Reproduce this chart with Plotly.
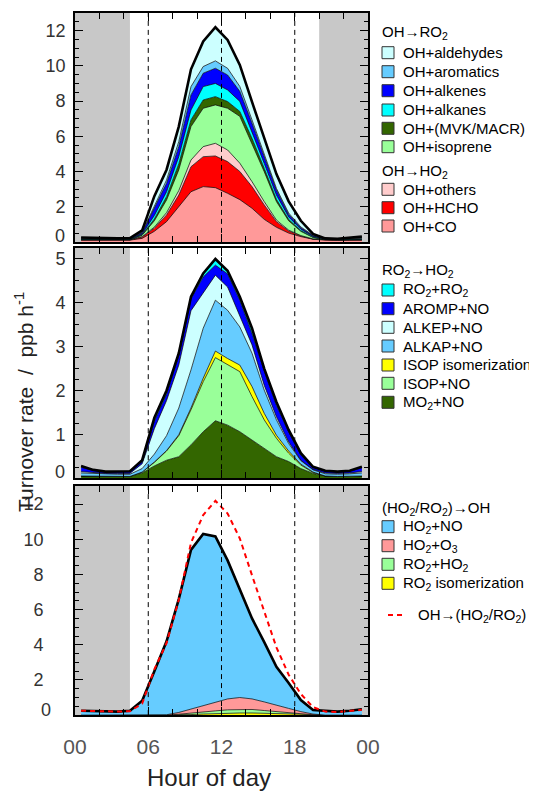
import numpy as np
import plotly.graph_objects as go

# ---------------- data ----------------
hours = [h + 0.5 for h in range(24)]

# Panel 1: OH -> RO2 / OH -> HO2 (stack order bottom -> top)
oh_co = [0.10, 0.10, 0.10, 0.10, 0.10, 0.20, 0.60, 1.15, 2.00, 2.85, 3.14, 3.08,
         2.76, 2.40, 1.91, 1.28, 0.83, 0.50, 0.30, 0.15, 0.10, 0.08, 0.10, 0.10]
oh_hcho = [0.01, 0.01, 0.01, 0.01, 0.01, 0.07, 0.18, 0.38, 0.66, 1.42, 1.70, 1.80,
           1.80, 1.60, 1.23, 0.82, 0.32, 0.12, 0.04, 0.01, 0.01, 0.01, 0.01, 0.01]
oh_others = [0.02, 0.02, 0.02, 0.02, 0.02, 0.03, 0.06, 0.13, 0.25, 0.38, 0.57, 0.72,
             0.66, 0.47, 0.28, 0.19, 0.09, 0.05, 0.02, 0.01, 0.02, 0.02, 0.02, 0.02]
oh_isoprene = [0.00, 0.00, 0.00, 0.00, 0.00, 0.08, 0.36, 0.72, 1.18, 1.90, 2.18, 2.18,
               2.37, 2.66, 2.18, 1.70, 1.05, 0.53, 0.24, 0.08, 0.00, 0.00, 0.00, 0.00]
oh_mvk = [0.01, 0.01, 0.01, 0.01, 0.01, 0.03, 0.10, 0.19, 0.34, 0.38, 0.47, 0.47,
          0.38, 0.28, 0.28, 0.19, 0.13, 0.08, 0.04, 0.02, 0.01, 0.01, 0.01, 0.01]
oh_alkanes = [0.02, 0.02, 0.02, 0.02, 0.02, 0.04, 0.20, 0.28, 0.41, 0.56, 0.76, 0.75,
              0.66, 0.57, 0.38, 0.28, 0.24, 0.14, 0.08, 0.04, 0.02, 0.02, 0.02, 0.02]
oh_alkenes = [0.03, 0.03, 0.03, 0.03, 0.03, 0.07, 0.38, 0.48, 0.57, 0.86, 0.76, 0.86,
              0.85, 0.57, 0.48, 0.38, 0.29, 0.14, 0.08, 0.05, 0.03, 0.03, 0.03, 0.03]
oh_aromatics = [0.01, 0.01, 0.01, 0.01, 0.01, 0.03, 0.14, 0.19, 0.29, 0.47, 0.38, 0.42,
                0.38, 0.28, 0.19, 0.19, 0.09, 0.08, 0.05, 0.02, 0.01, 0.01, 0.01, 0.01]
oh_aldehydes = [0.05, 0.02, 0.00, 0.00, 0.02, 0.10, 0.58, 0.58, 0.85, 0.98, 1.42, 1.91,
                1.61, 1.22, 1.02, 0.87, 0.81, 0.66, 0.35, 0.07, 0.00, 0.00, 0.02, 0.10]

# Panel 2: RO2 -> HO2
mo2_no = [0.05, 0.05, 0.04, 0.04, 0.04, 0.12, 0.28, 0.41, 0.49, 0.76, 1.06, 1.31,
          1.21, 1.06, 0.87, 0.68, 0.49, 0.38, 0.22, 0.11, 0.05, 0.04, 0.05, 0.05]
isop_no = [0.00, 0.00, 0.00, 0.00, 0.00, 0.02, 0.08, 0.21, 0.48, 0.80, 1.14, 1.44,
           1.37, 1.37, 0.99, 0.65, 0.42, 0.19, 0.08, 0.02, 0.00, 0.00, 0.00, 0.00]
isop_iso = [0.00, 0.00, 0.00, 0.00, 0.00, 0.00, 0.01, 0.01, 0.02, 0.04, 0.08, 0.15,
            0.15, 0.15, 0.23, 0.15, 0.07, 0.05, 0.02, 0.01, 0.00, 0.00, 0.00, 0.00]
alkap_no = [0.07, 0.06, 0.05, 0.05, 0.05, 0.08, 0.18, 0.34, 0.61, 0.87, 1.14, 1.16,
            1.10, 0.87, 0.76, 0.53, 0.35, 0.17, 0.08, 0.05, 0.05, 0.05, 0.05, 0.07]
alkep_no = [0.03, 0.02, 0.02, 0.02, 0.02, 0.11, 0.58, 0.80, 0.98, 1.35, 0.82, 0.57,
            0.53, 0.23, 0.19, 0.11, 0.07, 0.04, 0.01, 0.01, 0.02, 0.02, 0.02, 0.03]
aromp_no = [0.10, 0.05, 0.03, 0.04, 0.04, 0.05, 0.17, 0.15, 0.22, 0.27, 0.35, 0.23,
            0.30, 0.38, 0.26, 0.33, 0.26, 0.23, 0.12, 0.05, 0.04, 0.03, 0.04, 0.09]
ro2_ro2 = [0.03, 0.01, 0.01, 0.01, 0.01, 0.03, 0.08, 0.08, 0.05, 0.05, 0.08, 0.14,
           0.07, 0.08, 0.12, 0.05, 0.08, 0.04, 0.04, 0.01, 0.01, 0.01, 0.01, 0.02]

# Panel 3: (HO2/RO2) -> OH
ro2_isom = [0.00, 0.00, 0.00, 0.00, 0.00, 0.00, 0.00, 0.00, 0.00, 0.03, 0.06, 0.09,
            0.11, 0.12, 0.12, 0.10, 0.07, 0.05, 0.02, 0.00, 0.00, 0.00, 0.00, 0.00]
ro2_ho2 = [0.00, 0.00, 0.00, 0.00, 0.00, 0.00, 0.00, 0.00, 0.05, 0.07, 0.11, 0.15,
           0.19, 0.21, 0.20, 0.16, 0.13, 0.08, 0.04, 0.02, 0.00, 0.00, 0.00, 0.00]
ho2_o3 = [0.00, 0.00, 0.00, 0.00, 0.00, 0.00, 0.00, 0.02, 0.10, 0.25, 0.38, 0.51,
          0.62, 0.67, 0.60, 0.49, 0.35, 0.25, 0.14, 0.04, 0.00, 0.00, 0.00, 0.00]
ho2_no = [0.25, 0.22, 0.20, 0.20, 0.25, 0.82, 2.50, 4.18, 6.45, 9.05, 9.75, 9.41,
          7.88, 6.15, 4.58, 3.40, 2.20, 1.45, 0.66, 0.23, 0.25, 0.20, 0.25, 0.33]

x_tickvals = [0, 6, 12, 18, 24]
x_ticktext = ["00", "06", "12", "18", "00"]
y_ticks_big = [0, 2, 4, 6, 8, 10, 12]
y_ticks_small = [0, 1, 2, 3, 4, 5]

# ---------------- styling ----------------
# the page body has an 8px margin, so the figure is drawn 8px in from the top-left
OFF = 8
W, H = 537 - OFF, 792 - OFF
FONT = "Liberation Sans, Arial, Helvetica, sans-serif"

def fx(x):
    return (x - OFF) / W

def fy(y):
    return 1 - (y - OFF) / H

PLOT_X = (75, 368)
PANELS = [(13, 241.9), (248, 478.2), (485.7, 715.1)]
YRANGES = [[0, 13.0], [0, 5.25], [0, 13.05]]
YTICKS = [y_ticks_big, y_ticks_small, y_ticks_big]
YMINOR = [0.5, 0.25, 0.5]
# raised "0" labels (as in the original figure) : (right edge x, centre y)
ZERO_LABEL = [(67, 236), (67, 471.5), (53, 709.5)]
YSTANDOFF = [4, 4, 26]

panel1 = [
    ("OH+CO", oh_co, "#FF9999"),
    ("OH+HCHO", oh_hcho, "#FF0000"),
    ("OH+others", oh_others, "#FFCCCC"),
    ("OH+isoprene", oh_isoprene, "#99FF99"),
    ("OH+(MVK/MACR)", oh_mvk, "#336600"),
    ("OH+alkanes", oh_alkanes, "#00FFFF"),
    ("OH+alkenes", oh_alkenes, "#0000FF"),
    ("OH+aromatics", oh_aromatics, "#66CCFF"),
    ("OH+aldehydes", oh_aldehydes, "#CCFFFF"),
]
panel2 = [
    ("MO<sub>2</sub>+NO", mo2_no, "#336600"),
    ("ISOP+NO", isop_no, "#99FF99"),
    ("ISOP isomerization", isop_iso, "#FFFF00"),
    ("ALKAP+NO", alkap_no, "#66CCFF"),
    ("ALKEP+NO", alkep_no, "#CCFFFF"),
    ("AROMP+NO", aromp_no, "#0000FF"),
    ("RO<sub>2</sub>+RO<sub>2</sub>", ro2_ro2, "#00FFFF"),
]
panel3 = [
    ("RO<sub>2</sub> isomerization", ro2_isom, "#FFFF00"),
    ("RO<sub>2</sub>+HO<sub>2</sub>", ro2_ho2, "#99FF99"),
    ("HO<sub>2</sub>+O<sub>3</sub>", ho2_o3, "#FF9999"),
    ("HO<sub>2</sub>+NO", ho2_no, "#66CCFF"),
]

fig = go.Figure()

def add_stack(layers, ax):
    xa = "x" if ax == 1 else f"x{ax}"
    ya = "y" if ax == 1 else f"y{ax}"
    cum = np.zeros(len(hours))
    for i, (name, vals, col) in enumerate(layers):
        cum = cum + np.array(vals)
        fig.add_trace(go.Scatter(
            x=hours, y=cum.copy(), mode="lines",
            line=dict(color="black", width=0.7),
            fill="tozeroy" if i == 0 else "tonexty", fillcolor=col,
            xaxis=xa, yaxis=ya, showlegend=False, hoverinfo="skip"))
    fig.add_trace(go.Scatter(
        x=hours, y=cum.copy(), mode="lines",
        line=dict(color="black", width=2.6),
        xaxis=xa, yaxis=ya, showlegend=False, hoverinfo="skip"))
    return cum

add_stack(panel1, 1)
add_stack(panel2, 2)
add_stack(panel3, 3)

oh_total = np.sum([np.array(v) for _, v, _ in panel1], axis=0)
fig.add_trace(go.Scatter(
    x=hours, y=oh_total, mode="lines",
    line=dict(color="#FF0000", width=2, dash="5px,4px"),
    xaxis="x3", yaxis="y3", showlegend=False, hoverinfo="skip"))

layout = dict(
    template="none",
    width=W, height=H,
    margin=dict(l=0, r=0, t=0, b=0, pad=0, autoexpand=False),
    paper_bgcolor="white", plot_bgcolor="white",
    font=dict(family=FONT, color="#222"),
    showlegend=False,
)

shapes = []
annotations = []

for i, ((ytop, ybot), yr) in enumerate(zip(PANELS, YRANGES)):
    n = i + 1
    xk = "xaxis" if n == 1 else f"xaxis{n}"
    yk = "yaxis" if n == 1 else f"yaxis{n}"
    xref = "x" if n == 1 else f"x{n}"
    yref = "y" if n == 1 else f"y{n}"
    layout[xk] = dict(
        domain=[fx(PLOT_X[0]), fx(PLOT_X[1])], anchor=yref, range=[0, 24],
        automargin=False,
        showline=True, linecolor="black", linewidth=1.8, mirror="allticks",
        ticks="inside", ticklen=8, tickwidth=1.2, tickcolor="black",
        tickmode="array", tickvals=x_tickvals, ticktext=x_ticktext,
        showticklabels=(n == 3), ticklabelstandoff=12,
        tickfont=dict(family=FONT, size=21, color="#555"),
        minor=dict(tickmode="array", tickvals=[2, 4, 8, 10, 14, 16, 20, 22],
                   ticks="inside", ticklen=6, tickwidth=1, tickcolor="black",
                   showgrid=False),
        showgrid=False, zeroline=False,
    )
    tv = YTICKS[i]
    layout[yk] = dict(
        domain=[fy(ybot), fy(ytop)], anchor=xref, range=yr,
        automargin=False,
        showline=True, linecolor="black", linewidth=1.8, mirror="allticks",
        ticks="inside", ticklen=8, tickwidth=1.2, tickcolor="black",
        tickmode="array", tickvals=tv,
        ticktext=["" if v == 0 else str(v) for v in tv],
        ticklabelstandoff=YSTANDOFF[i],
        tickfont=dict(family=FONT, size=18, color="#333"),
        minor=dict(dtick=YMINOR[i], tick0=0, ticks="inside", ticklen=4,
                   tickwidth=1, tickcolor="black", showgrid=False),
        showgrid=False, zeroline=False,
    )
    zx, zy = ZERO_LABEL[i]
    annotations.append(dict(text=str(tv[0]), x=fx(zx), y=fy(zy), xref="paper", yref="paper",
                            xanchor="right", yanchor="middle", showarrow=False,
                            font=dict(family=FONT, size=18, color="#333")))
    # night shading
    for (a, b) in [(0, 4.5), (20, 24)]:
        shapes.append(dict(type="rect", xref=xref, yref=f"{yref} domain",
                           x0=a, x1=b, y0=0, y1=1, fillcolor="#C8C8C8",
                           line=dict(width=0), layer="below"))
    for xv in [6, 12, 18]:
        shapes.append(dict(type="line", xref=xref, yref=f"{yref} domain",
                           x0=xv, x1=xv, y0=0, y1=1,
                           line=dict(color="black", width=1, dash="5px,4px"),
                           layer="above"))

# ---------------- legends ----------------
LEG_FS = 15
SW_X0, SW_X1 = 382, 394
TXT_X = 401

def header(text, y):
    annotations.append(dict(text=text, x=fx(380), y=fy(y), xref="paper", yref="paper",
                            xanchor="left", yanchor="middle", showarrow=False,
                            font=dict(family=FONT, size=LEG_FS, color="black")))

def item(text, color, y):
    shapes.append(dict(type="rect", xref="paper", yref="paper",
                       x0=fx(SW_X0), x1=fx(SW_X1), y0=fy(y + 6), y1=fy(y - 6),
                       fillcolor=color, line=dict(color="#333", width=1)))
    annotations.append(dict(text=text, x=fx(TXT_X), y=fy(y), xref="paper", yref="paper",
                            xanchor="left", yanchor="middle", showarrow=False,
                            font=dict(family=FONT, size=LEG_FS, color="black")))

header("OH→RO<sub>2</sub>", 33)
ys = [52.7, 71.7, 90.7, 110, 128.3, 146.7]
for (name, _, col), y in zip(panel1[3:][::-1], ys):
    item(name, col, y)
header("OH→HO<sub>2</sub>", 172)
for (name, _, col), y in zip(panel1[:3][::-1], [189.3, 207.7, 226]):
    item(name, col, y)

header("RO<sub>2</sub>→HO<sub>2</sub>", 270.7)
for (name, _, col), y in zip(panel2[::-1], [290, 308.7, 327.3, 346, 365, 383.3, 402.3]):
    item(name, col, y)

header("(HO<sub>2</sub>/RO<sub>2</sub>)→OH", 508.3)
for (name, _, col), y in zip(panel3[::-1], [526.7, 545.7, 564.3, 583.3]):
    item(name, col, y)
shapes.append(dict(type="line", xref="paper", yref="paper",
                   x0=fx(388), x1=fx(404), y0=fy(615), y1=fy(615),
                   line=dict(color="#FF0000", width=2, dash="5px,4px")))
annotations.append(dict(text="OH→(HO<sub>2</sub>/RO<sub>2</sub>)", x=fx(416), y=fy(615),
                        xref="paper", yref="paper", xanchor="left", yanchor="middle",
                        showarrow=False, font=dict(family=FONT, size=LEG_FS, color="black")))

# axis titles
annotations.append(dict(text="Turnover rate  /  ppb h<sup>-1</sup>", x=fx(24), y=fy(402),
                        xref="paper", yref="paper", xanchor="center", yanchor="middle",
                        textangle=-90, showarrow=False,
                        font=dict(family=FONT, size=21, color="#222")))
annotations.append(dict(text="Hour of day", x=fx(209), y=fy(777),
                        xref="paper", yref="paper", xanchor="center", yanchor="middle",
                        showarrow=False, font=dict(family=FONT, size=24, color="#222")))

layout["shapes"] = shapes
layout["annotations"] = annotations
fig.update_layout(**layout)

fig.write_html("out.html")
